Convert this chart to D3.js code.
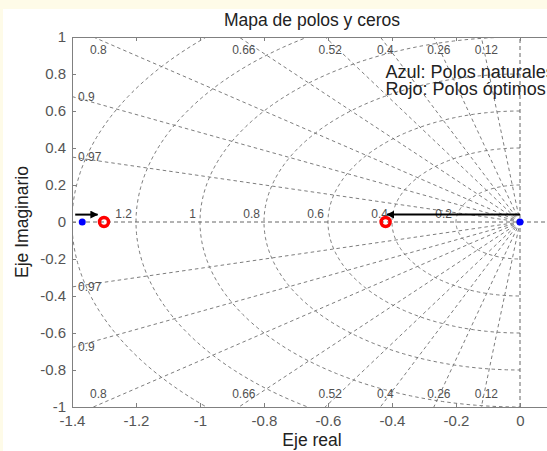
<!DOCTYPE html>
<html>
<head>
<meta charset="utf-8">
<script src="https://cdn.jsdelivr.net/npm/d3@7"></script>
<style>
  body { margin: 0; background: #fefbe8; }
  text { font-family: "Liberation Sans", Arial, sans-serif; }
</style>
</head>
<body>
<div id="chart"></div>
<script>
// data
const xTicks = [-1.4, -1.2, -1, -0.8, -0.6, -0.4, -0.2, 0]
const yTicks = [-1, -0.8, -0.6, -0.4, -0.2, 0, 0.2, 0.4, 0.6, 0.8, 1]
const zetaValues = [0.12, 0.26, 0.4, 0.52, 0.66, 0.8, 0.9, 0.97]
const wnValues = [0.2, 0.4, 0.6, 0.8, 1, 1.2, 1.4]
const wnLabels = ['0.2', '0.4', '0.6', '0.8', '1', '1.2', '']
const naturalPoles = [[-1.368, 0], [0, 0]]
const optimalPoles = [[-1.3, 0], [-0.42, 0]]
const arrows = [
  { from: [-1.39, 0.04], to: [-1.32, 0.04] },
  { from: [0, 0.04], to: [-0.415, 0.04] }
]
const legendLines = ['Azul: Polos naturales', 'Rojo: Polos óptimos']

const width = 547
const height = 451
const margin = { top: 37, left: 72, right: -5, bottom: 44 }

const svg = d3.select('#chart')
  .append('svg')
  .attr('width', width)
  .attr('height', height)

svg.append('rect').attr('width', width).attr('height', height).attr('fill', '#fefbe8')
svg.append('rect').attr('x', 3).attr('y', 9).attr('width', width).attr('height', height).attr('fill', '#ffffff')

const xPositionScale = d3.scaleLinear().domain([-1.4, 0.1]).range([margin.left, width - margin.right])
const yPositionScale = d3.scaleLinear().domain([-1, 1]).range([height - margin.bottom, margin.top])

svg.append('defs').append('clipPath').attr('id', 'plot-clip')
  .append('rect')
  .attr('x', margin.left)
  .attr('y', margin.top)
  .attr('width', width - margin.right - margin.left)
  .attr('height', height - margin.bottom - margin.top)

const grid = svg.append('g').attr('clip-path', 'url(#plot-clip)')
const gridColor = '#6e6e6e'

// damping ratio lines
zetaValues.forEach(z => {
  const s = Math.sqrt(1 - z * z)
  ;[1, -1].forEach(sign => {
    grid.append('line')
      .attr('x1', xPositionScale(0)).attr('y1', yPositionScale(0))
      .attr('x2', xPositionScale(-3 * z)).attr('y2', yPositionScale(sign * 3 * s))
      .attr('stroke', gridColor).attr('stroke-width', 0.9).attr('stroke-dasharray', '3.5 3')
  })
})

// natural frequency arcs
const arcLine = d3.line().x(d => xPositionScale(d[0])).y(d => yPositionScale(d[1]))
wnValues.forEach(w => {
  const pts = d3.range(90, 270.5, 1).map(a => [w * Math.cos(a * Math.PI / 180), w * Math.sin(a * Math.PI / 180)])
  grid.append('path')
    .attr('d', arcLine(pts))
    .attr('fill', 'none')
    .attr('stroke', gridColor).attr('stroke-width', 0.9).attr('stroke-dasharray', '3.5 3')
})

// axes through origin
grid.append('line')
  .attr('x1', xPositionScale(0)).attr('x2', xPositionScale(0))
  .attr('y1', yPositionScale(-1)).attr('y2', yPositionScale(1))
  .attr('stroke', '#555').attr('stroke-width', 0.9).attr('stroke-dasharray', '4 3')
grid.append('line')
  .attr('x1', xPositionScale(-1.4)).attr('x2', xPositionScale(0.1))
  .attr('y1', yPositionScale(0)).attr('y2', yPositionScale(0))
  .attr('stroke', '#555').attr('stroke-width', 0.9).attr('stroke-dasharray', '4 3')

// zeta labels
zetaValues.forEach(z => {
  const s = Math.sqrt(1 - z * z)
  const yLeft = 1.4 * s / z
  ;[1, -1].forEach(sign => {
    const t = grid.append('text')
      .text(String(z))
      .attr('font-size', 12)
      .attr('fill', '#505050')
    if (yLeft < 0.95) {
      t.attr('x', xPositionScale(-1.4) + 6)
        .attr('y', yPositionScale(sign * yLeft) + 4)
        .attr('text-anchor', 'start')
    } else {
      t.attr('x', xPositionScale(-z / s) + 5)
        .attr('y', sign > 0 ? yPositionScale(1) + 17 : yPositionScale(-1) - 9)
        .attr('text-anchor', 'middle')
    }
  })
})

// wn labels
wnValues.forEach((w, i) => {
  grid.append('text')
    .text(wnLabels[i])
    .attr('x', xPositionScale(-w) - 4)
    .attr('y', yPositionScale(0) - 4)
    .attr('text-anchor', 'end')
    .attr('font-size', 12)
    .attr('fill', '#505050')
})

// legend text
legendLines.forEach((t, i) => {
  svg.append('text')
    .text(t)
    .attr('x', xPositionScale(-0.42))
    .attr('y', 78 + i * 17)
    .attr('font-size', 18)
    .attr('fill', '#222')
})

// arrows
svg.append('defs').append('marker')
  .attr('id', 'arrowhead')
  .attr('viewBox', '0 0 10 10')
  .attr('refX', 9).attr('refY', 5)
  .attr('markerWidth', 4).attr('markerHeight', 4)
  .attr('orient', 'auto')
  .append('path').attr('d', 'M0,0L10,5L0,10z').attr('fill', '#000')

arrows.forEach(a => {
  svg.append('line')
    .attr('x1', xPositionScale(a.from[0])).attr('y1', yPositionScale(a.from[1]))
    .attr('x2', xPositionScale(a.to[0])).attr('y2', yPositionScale(a.to[1]))
    .attr('stroke', '#000').attr('stroke-width', 2)
    .attr('marker-end', 'url(#arrowhead)')
})

// poles
svg.selectAll('.natural')
  .data(naturalPoles)
  .enter().append('circle')
  .attr('class', 'natural')
  .attr('cx', d => xPositionScale(d[0]))
  .attr('cy', d => yPositionScale(d[1]))
  .attr('r', 3.5)
  .attr('fill', '#0000ff')

svg.selectAll('.optimal')
  .data(optimalPoles)
  .enter().append('circle')
  .attr('class', 'optimal')
  .attr('cx', d => xPositionScale(d[0]))
  .attr('cy', d => yPositionScale(d[1]))
  .attr('r', 4.5)
  .attr('fill', 'none')
  .attr('stroke', '#ff0000')
  .attr('stroke-width', 3.5)

// axes
const axisColor = '#808080'
const xAxis = d3.axisBottom(xPositionScale).tickValues(xTicks).tickSizeInner(-4).tickSizeOuter(0).tickPadding(8)
  .tickFormat(d => String(+d.toFixed(1)))
svg.append('g')
  .attr('class', 'axis x-axis')
  .attr('transform', 'translate(0,' + yPositionScale(-1) + ')')
  .call(xAxis)

const yAxis = d3.axisLeft(yPositionScale).tickValues(yTicks).tickSizeInner(-4).tickSizeOuter(0).tickPadding(6)
  .tickFormat(d => String(+d.toFixed(1)))
svg.append('g')
  .attr('class', 'axis y-axis')
  .attr('transform', 'translate(' + margin.left + ',0)')
  .call(yAxis)

const xTop = d3.axisTop(xPositionScale).tickValues(xTicks).tickSizeInner(-4).tickSizeOuter(0).tickFormat('')
svg.append('g')
  .attr('class', 'axis')
  .attr('transform', 'translate(0,' + yPositionScale(1) + ')')
  .call(xTop)

svg.selectAll('.axis path').attr('stroke', axisColor)
svg.selectAll('.axis line').attr('stroke', axisColor)
svg.selectAll('.axis text')
  .attr('fill', '#555')
  .attr('font-size', 15)
  .attr('font-family', '"Liberation Sans", Arial, sans-serif')

// titles
const plotCenter = (xPositionScale(-1.4) + xPositionScale(0.1)) / 2
svg.append('text')
  .text('Mapa de polos y ceros')
  .attr('x', plotCenter)
  .attr('y', 26)
  .attr('text-anchor', 'middle')
  .attr('font-size', 17.5)
  .attr('fill', '#222')

svg.append('text')
  .text('Eje real')
  .attr('x', plotCenter)
  .attr('y', 446)
  .attr('text-anchor', 'middle')
  .attr('font-size', 17.5)
  .attr('fill', '#222')

svg.append('text')
  .text('Eje Imaginario')
  .attr('transform', 'translate(28,' + yPositionScale(0) + ') rotate(-90)')
  .attr('text-anchor', 'middle')
  .attr('font-size', 17.5)
  .attr('fill', '#222')
</script>
</body>
</html>
